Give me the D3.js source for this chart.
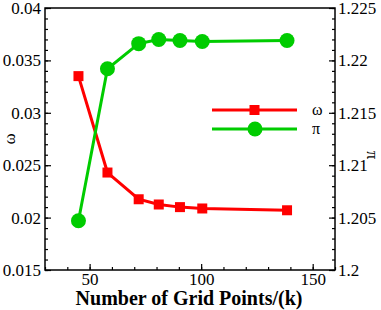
<!DOCTYPE html>
<html>
<head>
<meta charset="utf-8">
<script src="https://cdn.jsdelivr.net/npm/d3@7"></script>
<style>
  body { margin: 0; background: #fff; }
</style>
</head>
<body>
<div id="chart"></div>
<script>
// grid sizes (k) and the two series
const gridPoints = [45, 58, 72, 81, 90.5, 100.5, 138.5];
const omegaValues = [0.0335, 0.0243, 0.02175, 0.02125, 0.0210, 0.02087, 0.0207];
const piValues = [1.2047, 1.2192, 1.2216, 1.2220, 1.2219, 1.2218, 1.2219];
const xTickLabels = [50, 100, 150];
const leftTickLabels = [0.015, 0.02, 0.025, 0.03, 0.035, 0.04];
const rightTickLabels = [1.2, 1.205, 1.21, 1.215, 1.22, 1.225];

const width = 381, height = 310;
const margin = { top: 8, right: 46, bottom: 40, left: 45 };
const red = "#ff0000", green = "#00cc00";
const serif = "Liberation Serif";

const svg = d3.select("#chart").append("svg")
    .attr("width", width)
    .attr("height", height);

const x = d3.scaleLinear().domain([30, 160]).range([margin.left, width - margin.right]);
const yL = d3.scaleLinear().domain([0.015, 0.04]).range([height - margin.bottom, margin.top]);
const yR = d3.scaleLinear().domain([1.2, 1.225]).range([height - margin.bottom, margin.top]);

const bottomY = height - margin.bottom;
const rightX = width - margin.right;

// minor ticks
svg.append("g")
    .attr("transform", `translate(0,${bottomY})`)
    .call(d3.axisBottom(x).tickValues(d3.range(30, 161, 10)).tickSize(-3).tickFormat(""))
    .call(g => g.select(".domain").remove());
svg.append("g")
    .attr("transform", `translate(${margin.left},0)`)
    .call(d3.axisLeft(yL).tickValues(d3.range(0.015, 0.0401, 0.001)).tickSize(-3).tickFormat(""))
    .call(g => g.select(".domain").remove());
svg.append("g")
    .attr("transform", `translate(${rightX},0)`)
    .call(d3.axisRight(yR).tickValues(d3.range(1.2, 1.2251, 0.001)).tickSize(-3).tickFormat(""))
    .call(g => g.select(".domain").remove());

// major ticks + labels
svg.append("g")
    .attr("transform", `translate(0,${bottomY})`)
    .call(d3.axisBottom(x).tickValues(xTickLabels).tickSize(-6).tickPadding(3))
    .call(g => g.select(".domain").remove());
svg.append("g")
    .attr("transform", `translate(${margin.left},0)`)
    .call(d3.axisLeft(yL).tickValues(leftTickLabels).tickSize(-6).tickPadding(4).tickFormat(d3.format("")))
    .call(g => g.select(".domain").remove());
svg.append("g")
    .attr("transform", `translate(${rightX},0)`)
    .call(d3.axisRight(yR).tickValues(rightTickLabels).tickSize(-6).tickPadding(3).tickFormat(d3.format("")))
    .call(g => g.select(".domain").remove());

svg.selectAll("g").attr("font-family", serif).attr("font-size", 17);
svg.selectAll(".tick text").style("font-family", serif).style("font-size", "17px");
svg.selectAll(".tick line").attr("stroke", "#000").attr("stroke-width", 1.2);

// frame
svg.append("rect")
    .attr("x", margin.left).attr("y", margin.top)
    .attr("width", rightX - margin.left)
    .attr("height", bottomY - margin.top)
    .attr("fill", "none").attr("stroke", "#000").attr("stroke-width", 1.5);

const omegaData = gridPoints.map((g, i) => ({ x: g, y: omegaValues[i] }));
const piData = gridPoints.map((g, i) => ({ x: g, y: piValues[i] }));

// omega series
svg.append("path")
    .datum(omegaData)
    .attr("fill", "none").attr("stroke", red).attr("stroke-width", 3)
    .attr("d", d3.line().x(d => x(d.x)).y(d => yL(d.y)));
svg.append("g").selectAll("rect")
    .data(omegaData).join("rect")
    .attr("x", d => x(d.x) - 5).attr("y", d => yL(d.y) - 5)
    .attr("width", 10).attr("height", 10)
    .attr("fill", red);

// pi series
svg.append("path")
    .datum(piData)
    .attr("fill", "none").attr("stroke", green).attr("stroke-width", 3)
    .attr("d", d3.line().x(d => x(d.x)).y(d => yR(d.y)));
svg.append("g").selectAll("circle")
    .data(piData).join("circle")
    .attr("cx", d => x(d.x)).attr("cy", d => yR(d.y))
    .attr("r", 7.5)
    .attr("fill", green);

// legend
const legend = svg.append("g");
[{ c: red, label: "ω", sym: "square", y: 110 }, { c: green, label: "π", sym: "circle", y: 129 }].forEach(it => {
    legend.append("line")
        .attr("x1", 212).attr("x2", 297).attr("y1", it.y).attr("y2", it.y)
        .attr("stroke", it.c).attr("stroke-width", 3);
    if (it.sym === "square") {
        legend.append("rect").attr("x", 249.5).attr("y", it.y - 5).attr("width", 10).attr("height", 10).attr("fill", it.c);
    } else {
        legend.append("circle").attr("cx", 255).attr("cy", it.y).attr("r", 7.5).attr("fill", it.c);
    }
    legend.append("text")
        .attr("x", 312).attr("y", it.y + 5)
        .style("font-family", serif).style("font-size", "16px")
        .text(it.label);
});

// axis titles
svg.append("text")
    .attr("transform", `translate(15,139) rotate(-90)`)
    .attr("text-anchor", "middle")
    .style("font-family", serif).style("font-size", "17px")
    .text("ω");
svg.append("text")
    .attr("transform", `translate(367,155) rotate(90)`)
    .attr("text-anchor", "middle")
    .style("font-family", serif).style("font-size", "17px")
    .text("π");
svg.append("text")
    .attr("x", 189).attr("y", 305)
    .attr("text-anchor", "middle")
    .style("font-family", serif).style("font-size", "20px")
    .attr("font-weight", "bold")
    .text("Number of Grid Points/(k)");
</script>
</body>
</html>
